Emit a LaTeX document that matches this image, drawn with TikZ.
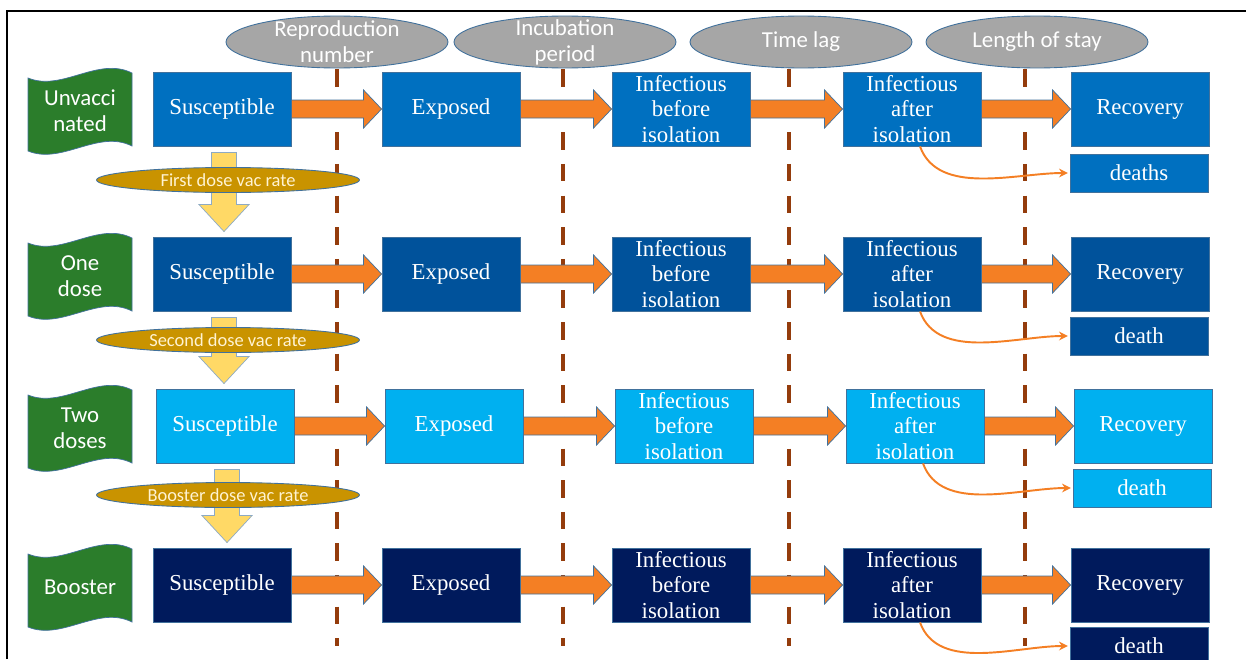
\documentclass[tikz,border=0pt]{standalone}
\usepackage{fontspec}
\setmainfont{Liberation Serif}
\setsansfont{Carlito}
\usetikzlibrary{arrows.meta, calc, shapes.geometric}

\definecolor{rowA}{HTML}{0070C0}
\definecolor{rowB}{HTML}{00529B}
\definecolor{rowC}{HTML}{00B0F0}
\definecolor{rowD}{HTML}{001A5C}
\definecolor{edgeblue}{HTML}{41719C}
\definecolor{floworange}{HTML}{F47F24}
\definecolor{lagbrown}{HTML}{943C0C}
\definecolor{bannergreen}{HTML}{2B7D2B}
\definecolor{vacgold}{HTML}{C99300}
\definecolor{vacyellow}{HTML}{FFD966}
\definecolor{vactext}{HTML}{FFF3D2}
\definecolor{paramgray}{HTML}{A6A6A6}

\tikzset{
  comp/.style={draw=edgeblue, line width=0.5pt, minimum width=2.76cm, minimum height=1.48cm,
    inner sep=0pt, text=white, align=center, font=\fontsize{13}{14.7}\selectfont},
  deathbox/.style={comp, minimum height=0.76cm},
  param/.style={ellipse, draw=edgeblue, fill=paramgray, line width=0.5pt,
    minimum width=4.44cm, minimum height=1.04cm, inner sep=0pt},
  paramtext/.style={text=white, align=center, font=\sffamily\fontsize{13}{14.7}\selectfont},
  lagline/.style={draw=lagbrown, line width=2.3pt, dash pattern=on 10pt off 8pt},
  flow/.style={fill=floworange, draw=edgeblue, line width=0.4pt},
  vacflow/.style={fill=vacyellow, draw=edgeblue!60, line width=0.4pt},
  vacrate/.style={ellipse, fill=vacgold, draw=edgeblue, line width=0.5pt, minimum width=5.26cm,
    minimum height=0.5cm, inner sep=0pt, text=vactext, font=\sffamily\fontsize{10.5}{12}\selectfont},
  banner/.style={fill=bannergreen, draw=edgeblue, line width=0.4pt},
  bannertext/.style={text=white, align=center, font=\sffamily\fontsize{13}{14.7}\selectfont},
  deathflow/.style={draw=floworange, line width=1.1pt, -{Stealth[length=5pt, width=5pt]}}
}

\newcommand{\fatflow}[2]{%
  \draw[flow] ($(#1.east)+(0,-9)$) -- ($(#2.west)+(-18,-9)$) -- ($(#2.west)+(-18,-19)$)
    -- (#2.west) -- ($(#2.west)+(-18,19)$) -- ($(#2.west)+(-18,9)$) -- ($(#1.east)+(0,9)$) -- cycle;}
\newcommand{\doseflow}[2]{%
  \draw[vacflow] ($(#1.south)+(-10.5,6)$) -- ($(#1.south |- #2.north)+(-10.5,-32)$)
    -- ($(#1.south |- #2.north)+(-23,-32)$) -- ($(#1.south |- #2.north)+(2,-5)$)
    -- ($(#1.south |- #2.north)+(27,-32)$) -- ($(#1.south |- #2.north)+(14.5,-32)$)
    -- ($(#1.south)+(14.5,6)$) -- cycle;}

\begin{document}
\begin{tikzpicture}[x=0.02cm, y=-0.02cm]
    \useasboundingbox (0,0) rectangle (1246,659);
    \draw[line width=1.1pt] (7,659) -- (7,11) -- (1246,11);

    \draw[lagline] (337,69) -- (337,646);
    \draw[lagline] (563,69) -- (563,646);
    \draw[lagline] (789,69) -- (789,646);
    \draw[lagline] (1025,69) -- (1025,646);

    \node[param] (p1) at (337,42) {};
    \node[paramtext] (p1t) at (p1) {Reproduction\\number};
    \node[param] (p2) at (565,42) {};
    \node[paramtext] (p2t) at (p2) {Incubation\\period};
    \node[param] (p3) at (801,42) {};
    \node[paramtext] (p3t) at (p3) {Time lag};
    \node[param] (p4) at (1037,42) {};
    \node[paramtext] (p4t) at (p4) {Length of stay};

    \foreach \r/\cy/\dx/\col/\dy/\dname/\blab in {
        1/109/0/rowA/173/deaths/{Unvacci\\nated},
        2/274/0/rowB/336/death/{One\\dose},
        3/426/3/rowC/488/death/{Two\\doses},
        4/585/0/rowD/646/death/{Booster}} {
      \node[comp, fill=\col] (s\r) at (222+\dx,\cy) {Susceptible};
      \node[comp, fill=\col] (e\r) at (451+\dx,\cy) {Exposed};
      \node[comp, fill=\col] (ib\r) at (681+\dx,\cy) {Infectious\\before\\isolation};
      \node[comp, fill=\col] (ia\r) at (912+\dx,\cy) {Infectious\\after\\isolation};
      \node[comp, fill=\col] (rc\r) at (1140+\dx,\cy) {Recovery};
      \node[deathbox, fill=\col] (d\r) at (1139+\dx,\dy) {\dname};
      \fatflow{s\r}{e\r}
      \fatflow{e\r}{ib\r}
      \fatflow{ib\r}{ia\r}
      \fatflow{ia\r}{rc\r}
      \draw[deathflow, shorten >=1pt] ([xshift=0.16cm]ia\r.south) to[out=-70, in=180, looseness=0.9] (d\r.west);
      \draw[banner] (28,\cy-31) .. controls (62,\cy-17) and (98,\cy-53) .. (132,\cy-36)
        -- (132,\cy+37) .. controls (98,\cy+20) and (62,\cy+56) .. (28,\cy+42) -- cycle;
      \node[bannertext] (b\r) at (80,\cy+2) {\blab};
    }

    \doseflow{s1}{s2}
    \doseflow{s2}{s3}
    \doseflow{s3}{s4}
    \node[vacrate] (v1) at (228,180) {First dose vac rate};
    \node[vacrate] (v2) at (228,340) {Second dose vac rate};
    \node[vacrate] (v3) at (228,495) {Booster dose vac rate};
\end{tikzpicture}
\end{document}
